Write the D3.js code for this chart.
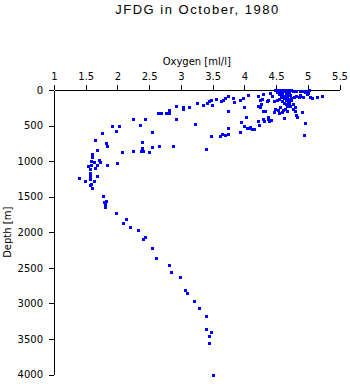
<!DOCTYPE html>
<html><head><meta charset="utf-8">
<script src="https://cdn.jsdelivr.net/npm/d3@7"></script>
<style>
body{margin:0;background:#fff;}
svg{display:block;font-family:"DejaVu Sans",Verdana,sans-serif;}
</style></head><body>
<svg id="chart" width="350" height="384"></svg>
<script>
const title = "JFDG in October, 1980";
const xLabel = "Oxygen [ml/l]";
const yLabel = "Depth [m]";
const xTicks = [1,1.5,2,2.5,3,3.5,4,4.5,5,5.5];
const yTicks = [0,500,1000,1500,2000,2500,3000,3500,4000];
// Oxygen [ml/l]
const oxygen = [
4.49,4.52,4.55,4.58,4.62,4.65,4.69,4.73,
4.51,4.57,4.63,4.68,4.77,4.82,4.88,4.93,4.98,5.02,4.96,
4.30,4.21,4.41,4.44,4.25,4.28,4.37,4.35,4.47,4.52,
4.58,4.63,4.68,4.73,4.60,4.65,4.69,4.74,4.62,4.66,4.71,4.76,
4.55,4.60,4.65,4.70,4.58,4.62,4.68,4.72,4.55,4.70,
4.88,4.93,5.04,5.07,5.15,5.23,4.82,4.78,4.86,4.88,4.99,5.01,
4.21,4.24,4.30,4.48,4.53,4.57,4.61,4.64,4.67,4.72,4.47,4.55,4.60,4.67,4.77,4.80,4.91,
4.62,4.81,4.83,4.95,4.21,4.30,4.31,4.37,4.42,4.39,4.09,4.15,4.23,4.94,4.27,4.80,4.37,4.32,
4.05,3.98,3.93,3.83,3.82,3.75,3.70,3.66,3.63,3.55,3.49,3.47,3.44,3.41,3.35,3.25,
3.12,3.03,3.03,2.92,2.81,2.82,2.76,2.69,2.64,2.43,2.36,2.24,2.92,3.22,3.74,
4.00,4.03,3.95,4.00,4.04,4.07,4.12,4.16,3.93,3.74,3.65,3.61,3.70,3.74,3.48,3.40,
2.55,2.38,2.07,2.25,2.38,2.37,2.41,2.50,2.54,2.65,2.87,
1.91,2.03,1.98,1.76,1.64,1.82,1.84,1.67,1.60,1.60,1.59,1.71,1.73,2.00,1.63,
1.53,1.58,1.64,1.67,1.84,1.57,1.56,1.56,1.68,1.39,1.57,1.49,1.63,1.58,1.56,1.60,
1.77,1.82,1.79,1.80,1.81,1.98,
2.14,2.09,2.20,2.33,2.43,2.41,2.54,2.60,2.82,2.85,2.98,
3.06,3.09,3.20,3.28,3.39,3.39,3.47,3.44,3.44,3.50
];
// Depth [m]
const depth = [
0,0,0,0,0,0,0,0,
28,28,21,14,14,14,14,14,14,0,28,
56,84,46,84,141,122,141,150,150,141,
98,112,98,112,155,141,155,141,183,197,183,197,
50,40,60,45,70,80,75,65,120,130,
84,103,94,112,94,84,84,94,94,75,56,49,
225,243,291,263,281,243,281,263,225,225,309,319,309,300,263,291,309,
394,347,384,460,432,404,432,412,422,440,516,544,496,628,197,235,375,300,
75,112,141,169,112,84,112,141,150,122,215,141,159,187,207,179,
235,243,271,225,281,328,319,328,319,412,496,412,412,478,291,
243,384,450,510,538,538,544,553,595,538,623,647,628,614,651,830,
586,731,867,862,815,853,862,872,806,792,792,
500,500,575,600,705,750,785,850,895,940,1000,990,1010,1025,1010,
1075,1060,1090,1060,1060,1110,1165,1210,1215,1235,1250,1285,1285,1320,1340,1380,
1485,1565,1580,1605,1640,1725,
1820,1865,1930,1970,2070,2095,2220,2360,2460,2565,2635,
2810,2860,2960,3065,3180,3355,3405,3460,3560,4000
];

const svg = d3.select("#chart");
const x = d3.scaleLinear().domain([1,5.5]).range([54,339.5]);
const y = d3.scaleLinear().domain([0,4000]).range([90,374.5]);
const font = "DejaVu Sans, Verdana, sans-serif";
const cx = (x.range()[0]+x.range()[1])/2;

svg.append("text").attr("x",cx).attr("y",13.5)
  .attr("text-anchor","middle").attr("font-size",13)
  .attr("textLength",163).attr("lengthAdjust","spacing")
  .attr("font-family","Liberation Sans, Arial, sans-serif").attr("fill","#000").text(title);

const gx = svg.append("g").attr("transform","translate(0,90)")
  .call(d3.axisTop(x).tickValues(xTicks).tickFormat(d3.format("")).tickSize(5).tickSizeOuter(0).tickPadding(5));
const gy = svg.append("g").attr("transform","translate(54,0)")
  .call(d3.axisLeft(y).tickValues(yTicks).tickFormat(d3.format("")).tickSize(5).tickSizeOuter(0).tickPadding(6));
[gx,gy].forEach(g=>{
  g.selectAll("text").attr("font-size",10).attr("font-family",font).attr("fill","#000");
  g.selectAll("line,path").attr("stroke","#000").attr("shape-rendering","crispEdges");
});

svg.append("text").attr("x",cx).attr("y",64.5)
  .attr("text-anchor","middle").attr("font-size",10).attr("font-family",font).attr("fill","#000").text(xLabel);
svg.append("text").attr("transform","translate(10.5,"+((y.range()[0]+y.range()[1])/2)+") rotate(-90)")
  .attr("text-anchor","middle").attr("font-size",10).attr("font-family",font).attr("fill","#000").text(yLabel);

const pts = oxygen.map((o,i)=>({o:o,d:depth[i]}));
svg.append("g").selectAll("rect").data(pts).join("rect")
  .attr("x",d=>Math.round(x(d.o))-1.5).attr("y",d=>Math.round(y(d.d))-1.5)
  .attr("width",3).attr("height",3).attr("fill","#0000ff").attr("shape-rendering","crispEdges");
</script></body></html>
